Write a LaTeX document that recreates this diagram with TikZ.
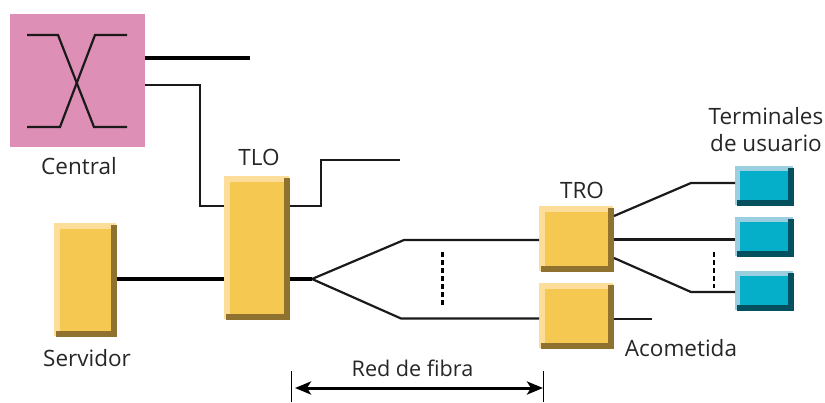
\documentclass[tikz,border=0pt]{standalone}
\usepackage{fontspec}
\usetikzlibrary{arrows.meta,calc}
\setmainfont{Open Sans}
\definecolor{pinkc}{HTML}{DE8FB5}
\definecolor{yelM}{HTML}{F4C851}
\definecolor{yelL}{HTML}{FCDD9A}
\definecolor{yelD}{HTML}{8F7230}
\definecolor{bluM}{HTML}{05AEC9}
\definecolor{bluL}{HTML}{9BCFDF}
\definecolor{bluD}{HTML}{05505F}
\definecolor{linec}{HTML}{1A1A1A}
\tikzset{
  x=1pt,y=-1pt,
  bevel/.style n args={6}{draw=none,inner sep=0pt,outer sep=0pt,fill=#1,
    path picture={
      \coordinate (SW) at (path picture bounding box.south west);
      \coordinate (NE) at (path picture bounding box.north east);
      \coordinate (SE) at (path picture bounding box.south east);
      \coordinate (NW) at (path picture bounding box.north west);
      \fill[#2] (SW) rectangle ($(NW)+(#4,0)$);
      \fill[#2] (NW) rectangle ($(NE)+(0,#5)$);
      \fill[white] ($(NE)+(-1.5,0)$) rectangle ($(NE)+(0,1.5)$);
      \fill[white] (SW) rectangle ($(SW)+(1.5,-1.5)$);
      \fill[#3] ($(NE)+(-#6,1.5)$) rectangle (SE);
      \fill[#3] ($(SW)+(1.5,0)$) rectangle ($(SE)+(0,-#6)$);
    }},
  yelbox/.style={bevel={yelM}{yelL}{yelD}{5.5}{5.5}{6}},
  blubox/.style={bevel={bluM}{bluL}{bluD}{5}{5}{6},minimum width=59pt,minimum height=40pt},
  thin wire/.style={draw=linec,line width=2.2pt,line join=miter},
  thick wire/.style={draw=black,line width=3.4pt},
  dots wire/.style={draw=black,line width=3pt,dash pattern=on 5pt off 3pt},
  lab/.style={font=\fontsize{22.5}{27}\selectfont,text=black!85,inner sep=0pt,align=center}
}
\begin{document}
\begin{tikzpicture}
\useasboundingbox (0,0) rectangle (825,402);
% nodes
\node[fill=pinkc,inner sep=0pt,outer sep=0pt,minimum width=135pt,minimum height=133pt] (central) at (77.5,80.5) {};
\node[yelbox,minimum width=63pt,minimum height=114pt] (serv) at (85.5,280) {};
\node[yelbox,minimum width=66pt,minimum height=144pt] (tlo) at (257,248) {};
\node[yelbox,minimum width=75pt,minimum height=66pt] (tro) at (576.5,239) {};
\node[yelbox,minimum width=75pt,minimum height=66pt] (aco) at (576.5,316) {};
\node[blubox] (t1) at (764.5,186) {};
\node[blubox] (t2) at (764.5,237) {};
\node[blubox] (t3) at (764.5,291) {};
% labels
\node[lab] (lc) at (79,166) {Central};
\node[lab] (ll) at (259,157) {TLO};
\node[lab] (ls) at (87,358) {Servidor};
\node[lab] (lr) at (582,190) {TRO};
\node[lab] (lt) at (766,129.5) {Terminales\\de usuario};
\node[lab] (la) at (681,348) {Acometida};
\node[lab,font=\fontsize{21.6}{27}\selectfont] (lf) at (412.5,368) {Red de fibra};
% switch
\coordinate (s1) at (27,35); \coordinate (s2) at (58,35); \coordinate (s3) at (94,127); \coordinate (s4) at (127,127);
\coordinate (s5) at (27,127); \coordinate (s6) at (60,127); \coordinate (s7) at (95,35); \coordinate (s8) at (127,35);
\draw[thin wire] (s1) -- (s2) -- (s3) -- (s4);
\draw[thin wire] (s5) -- (s6) -- (s7) -- (s8);
% connectors
\coordinate (e1) at (250,58);
\draw[thick wire] (central.east |- e1) -- (e1);
\coordinate (c1) at (200,85); \coordinate (c2) at (200,206);
\draw[thin wire] (central.east |- c1) -- (c1) -- (c2) -- (tlo.west |- c2);
\coordinate (c3) at (321,206); \coordinate (c4) at (321,160); \coordinate (e2) at (400,160);
\draw[thin wire] (tlo.east |- c3) -- (c3) -- (c4) -- (e2);
\coordinate (c5) at (200,279);
\draw[thick wire] (serv.east |- c5) -- (tlo.west |- c5);
\coordinate (sp) at (312,279); \coordinate (u1) at (404,240); \coordinate (d1) at (401,318.5);
\draw[thick wire] (tlo.east |- sp) -- (sp);
\draw[thin wire] (sp) -- (u1) -- (tro.west |- u1);
\draw[thin wire] (sp) -- (d1) -- (aco.west |- d1);
\coordinate (q1) at (442.5,252); \coordinate (q2) at (442.5,307);
\draw[dots wire] (q1) -- (q2);
\coordinate (r1) at (614,216); \coordinate (r2) at (691,183);
\draw[thin wire] (r1) -- (r2) -- (t1.west |- r2);
\coordinate (r3) at (614,239.5);
\draw[thin wire] (r3) -- (t2.west |- r3);
\coordinate (r4) at (614,258); \coordinate (r5) at (691,292);
\draw[thin wire] (r4) -- (r5) -- (t3.west |- r5);
\coordinate (q3) at (714,252); \coordinate (q4) at (714,288);
\draw[dots wire,line width=2.6pt] (q3) -- (q4);
\coordinate (e3) at (652,319);
\draw[thin wire] (aco.east |- e3) -- (e3);
% dimension
\coordinate (a1) at (291.5,371); \coordinate (a2) at (291.5,402); \coordinate (b1) at (543.5,371); \coordinate (b2) at (543.5,402);
\coordinate (am) at (295,388); \coordinate (bm) at (543,388);
\draw[draw=black,line width=1.3pt] (a1) -- (a2);
\draw[draw=black,line width=1.3pt] (b1) -- (b2);
\draw[draw=black,line width=3pt,{Stealth[length=16pt,width=13pt,inset=4pt]}-{Stealth[length=16pt,width=13pt,inset=4pt]}] (am) -- (bm);
\end{tikzpicture}
\end{document}
